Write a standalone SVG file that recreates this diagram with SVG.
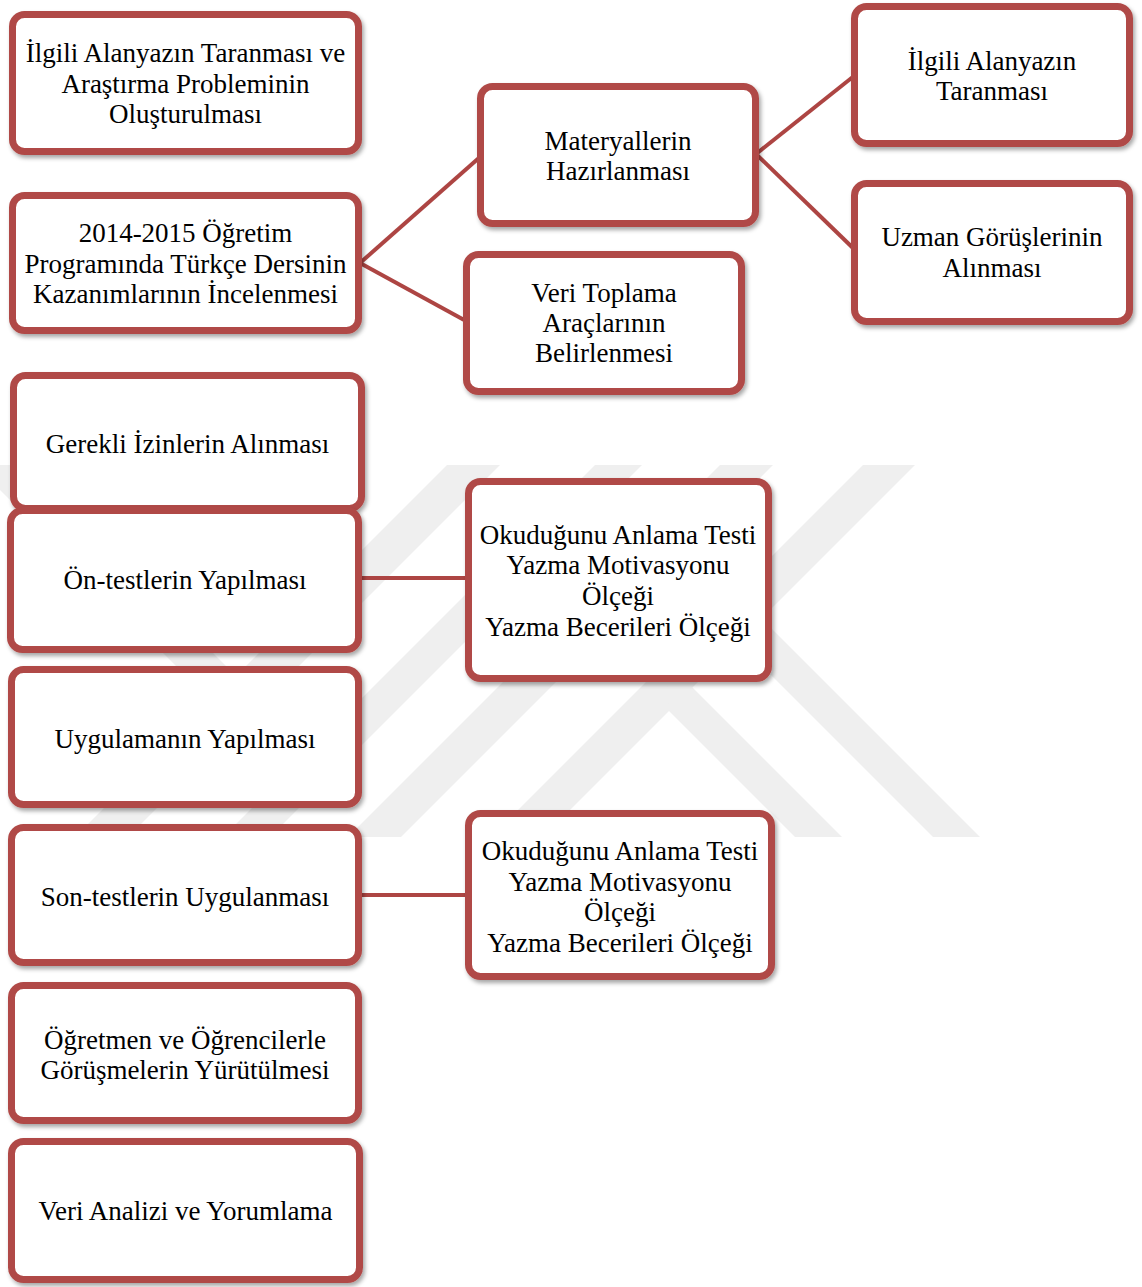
<svg xmlns="http://www.w3.org/2000/svg" width="1142" height="1287" viewBox="0 0 1142 1287">
<defs>
<filter id="sh" x="-10%" y="-10%" width="125%" height="130%">
<feDropShadow dx="2" dy="3" stdDeviation="2" flood-color="#000" flood-opacity="0.35"/>
</filter>
<clipPath id="wmclip"><rect x="0" y="465" width="1142" height="372"/></clipPath>
</defs>
<style>
.box{fill:#fff;stroke:#b04a47;stroke-width:7;filter:url(#sh)}
.lbl{font-family:"Liberation Serif","Times New Roman",serif;font-size:27px;fill:#000;text-anchor:middle}
.con{stroke:#ad4543;stroke-width:4;fill:none}
.wm{fill:#efefef}
</style>
<rect width="1142" height="1287" fill="#fff"/>
<g id="watermark" clip-path="url(#wmclip)">
<polygon class="wm" points="-25,465 25,465 237,677 237,727"/>
<polygon class="wm" points="447,465 500,465 128,837 75,837"/>
<polygon class="wm" points="595,465 642,465 270,837 223,837"/>
<polygon class="wm" points="720,465 773,465 401,837 348,837"/>
<polygon class="wm" points="863,465 915,465 543,837 491,837"/>
<polygon class="wm" points="666,661 842,837 795,837 669,711"/>
<polygon class="wm" points="761,618 980,837 933,837 738,642"/>
</g>
<g id="connectors">
<line class="con" x1="360" y1="263" x2="480" y2="157"/>
<line class="con" x1="360" y1="263" x2="466" y2="321"/>
<line class="con" x1="756" y1="154" x2="854" y2="76"/>
<line class="con" x1="756" y1="154" x2="854" y2="249"/>
<line class="con" x1="359" y1="578" x2="469" y2="578"/>
<line class="con" x1="359" y1="895" x2="469" y2="895"/>
</g>
<g id="nodeA"><rect class="box" x="12.5" y="14.5" width="346" height="137" rx="12"/>
<text class="lbl" x="185.5" y="62">İlgili Alanyazın Taranması ve</text>
<text class="lbl" x="185.5" y="93">Araştırma Probleminin</text>
<text class="lbl" x="185.5" y="123">Oluşturulması</text></g>
<g id="nodeB"><rect class="box" x="12.5" y="195.5" width="346" height="135" rx="12"/>
<text class="lbl" x="185.5" y="242">2014-2015 Öğretim</text>
<text class="lbl" x="185.5" y="273">Programında Türkçe Dersinin</text>
<text class="lbl" x="185.5" y="303">Kazanımlarının İncelenmesi</text></g>
<g id="nodeC"><rect class="box" x="480.5" y="86.5" width="275" height="137" rx="12"/>
<text class="lbl" x="618" y="150">Materyallerin</text>
<text class="lbl" x="618" y="180">Hazırlanması</text></g>
<g id="nodeD"><rect class="box" x="466.5" y="254.5" width="275" height="137" rx="12"/>
<text class="lbl" x="604" y="302">Veri Toplama</text>
<text class="lbl" x="604" y="332">Araçlarının</text>
<text class="lbl" x="604" y="362">Belirlenmesi</text></g>
<g id="nodeE"><rect class="box" x="854.5" y="6.5" width="275" height="137" rx="12"/>
<text class="lbl" x="992" y="70">İlgili Alanyazın</text>
<text class="lbl" x="992" y="100">Taranması</text></g>
<g id="nodeF"><rect class="box" x="854.5" y="183.5" width="275" height="138" rx="12"/>
<text class="lbl" x="992" y="246">Uzman Görüşlerinin</text>
<text class="lbl" x="992" y="277">Alınması</text></g>
<g id="nodeG"><rect class="box" x="13.5" y="375.5" width="348" height="133" rx="12"/>
<text class="lbl" x="187.5" y="453">Gerekli İzinlerin Alınması</text></g>
<g id="nodeH"><rect class="box" x="10.5" y="510.5" width="348" height="139" rx="12"/>
<text class="lbl" x="185" y="589">Ön-testlerin Yapılması</text></g>
<g id="nodeI"><rect class="box" x="468.5" y="481.5" width="300" height="197" rx="12"/>
<text class="lbl" x="618" y="544">Okuduğunu Anlama Testi</text>
<text class="lbl" x="618" y="574">Yazma Motivasyonu</text>
<text class="lbl" x="618" y="605">Ölçeği</text>
<text class="lbl" x="618" y="636">Yazma Becerileri Ölçeği</text></g>
<g id="nodeJ"><rect class="box" x="11.5" y="669.5" width="347" height="135" rx="12"/>
<text class="lbl" x="185" y="748">Uygulamanın Yapılması</text></g>
<g id="nodeK"><rect class="box" x="11.5" y="827.5" width="347" height="135" rx="12"/>
<text class="lbl" x="185" y="906">Son-testlerin Uygulanması</text></g>
<g id="nodeL"><rect class="box" x="468.5" y="813.5" width="303" height="163" rx="12"/>
<text class="lbl" x="620" y="860">Okuduğunu Anlama Testi</text>
<text class="lbl" x="620" y="891">Yazma Motivasyonu</text>
<text class="lbl" x="620" y="921">Ölçeği</text>
<text class="lbl" x="620" y="952">Yazma Becerileri Ölçeği</text></g>
<g id="nodeM"><rect class="box" x="11.5" y="985.5" width="347" height="135" rx="12"/>
<text class="lbl" x="185" y="1049">Öğretmen ve Öğrencilerle</text>
<text class="lbl" x="185" y="1079">Görüşmelerin Yürütülmesi</text></g>
<g id="nodeN"><rect class="box" x="11.5" y="1141.5" width="348" height="138" rx="12"/>
<text class="lbl" x="185.5" y="1220">Veri Analizi ve Yorumlama</text></g>
</svg>
